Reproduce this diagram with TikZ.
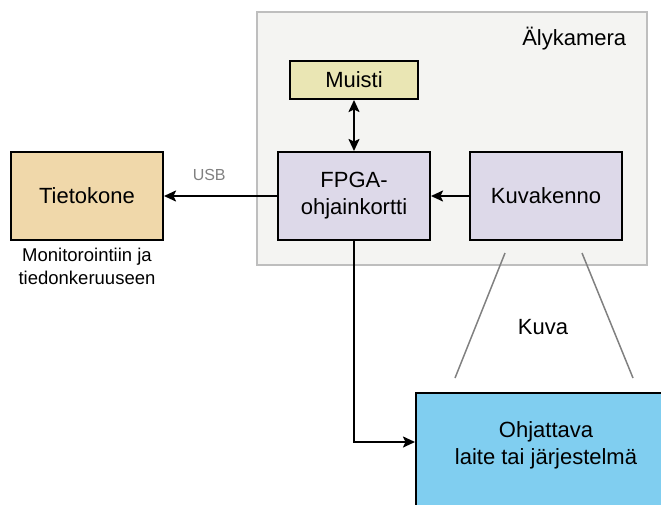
\documentclass[tikz,border=0pt]{standalone}
\usepackage{fontspec}
\setmainfont{Liberation Sans}
\usetikzlibrary{arrows.meta, positioning}

\definecolor{kamerafill}{RGB}{244,244,242}
\definecolor{kameraline}{RGB}{190,190,190}
\definecolor{muistifill}{RGB}{234,230,180}
\definecolor{korttifill}{RGB}{221,217,233}
\definecolor{konefill}{RGB}{240,216,170}
\definecolor{laitefill}{RGB}{128,206,240}

\begin{document}
\begin{tikzpicture}[
  x=1pt, y=-1pt,
  >={Stealth[length=12pt, width=11pt, inset=2.5pt]},
  node distance=38pt and 38pt,
  every node/.style={font=\fontsize{22}{27}\selectfont},
  box/.style={rectangle, draw, line width=2pt, align=center, minimum width=152pt, minimum height=88pt},
  pieni/.style={font=\fontsize{18.5}{23}\selectfont, align=center}
]
\clip (0,0) rectangle (661,504);

\node[draw=kameraline, fill=kamerafill, line width=1.5pt, minimum width=390pt, minimum height=253pt] (kamera) at (452,138.5) {};
\node[anchor=north east, xshift=-18pt, yshift=-12pt] (nimi) at (kamera.north east) {Älykamera};

\node[box, fill=korttifill] (fpga) at (354,196) {FPGA-\\ohjainkortti};
\node[box, fill=muistifill, minimum width=128pt, minimum height=38pt, above=51pt of fpga] (muisti) {Muisti};
\node[box, fill=korttifill, right=of fpga] (kenno) {Kuvakenno};
\node[box, fill=konefill, left=113pt of fpga] (kone) {Tietokone};
\node[pieni, below=4pt of kone] (kayttö) {Monitorointiin ja\\tiedonkeruuseen};
\node[box, fill=laitefill, anchor=north west, minimum width=260pt, minimum height=130pt, text depth=30pt] (laite) at (415,392) {Ohjattava\\laite tai järjestelmä};

% Kuva-alue
\coordinate (k1) at (505,253);
\coordinate (k2) at (455,378);
\coordinate (k3) at (582,253);
\coordinate (k4) at (633,378);
\draw[gray, line width=1.5pt] (k1) -- (k2);
\draw[gray, line width=1.5pt] (k3) -- (k4);
\node (kuva) at (543,327) {Kuva};

% Yhteydet
\draw[<->, line width=2pt] (fpga) -- (muisti);
\draw[->, line width=2pt] (kenno) -- (fpga);
\draw[->, line width=2pt] (fpga) -- (kone) node[pos=0.6, above, yshift=11pt, gray, font=\fontsize{16}{19}\selectfont]{USB};
\draw[->, line width=2pt] (fpga.south) |- ([yshift=-50pt]laite.north west);

\end{tikzpicture}
\end{document}
